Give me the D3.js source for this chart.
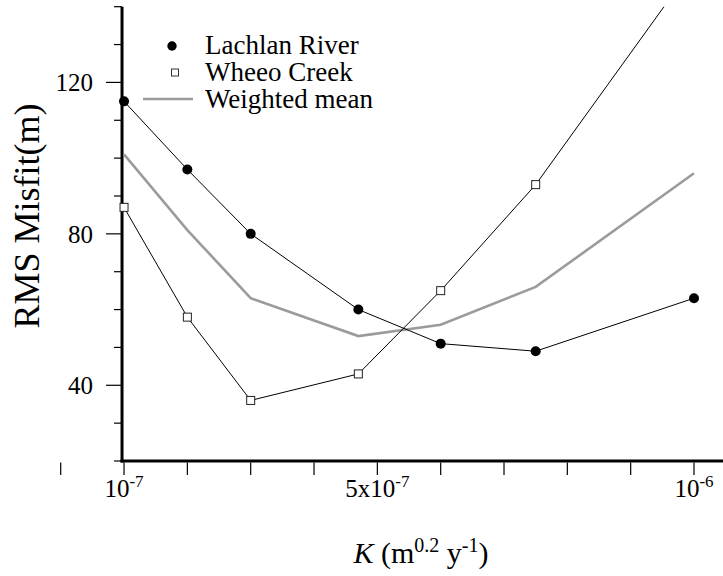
<!DOCTYPE html>
<meta charset="utf-8">
<title>RMS misfit vs K</title>
<style>

body {
  margin: 0;
  background: white;
}

svg {
  font-family: "Liberation Serif", "Times New Roman", serif;
}

.tick-label {
  font-size: 25px;
}

.legend text {
  font-size: 27px;
}

</style>
<body>
<script src="https://d3js.org/d3.v7.min.js"></script>
<script>

// K values (m^0.2 y^-1) and RMS misfit (m) for each catchment
var kValues = [1e-7, 2e-7, 3e-7, 4.7e-7, 6e-7, 7.5e-7, 1e-6];
var lachlan = [115, 97, 80, 60, 51, 49, 63];
var wheeo = [87, 58, 36, 43, 65, 93, 151];
var weighted = [101, 81, 63, 53, 56, 66, 96];

var xTicks = [0, 1e-7, 2e-7, 3e-7, 4e-7, 5e-7, 6e-7, 7e-7, 8e-7, 9e-7, 1e-6];
var xLabels = [
  {k: 1e-7, base: "10", sup: "-7"},
  {k: 5e-7, base: "5x10", sup: "-7"},
  {k: 1e-6, base: "10", sup: "-6"}
];
var yMinor = [20, 30, 40, 50, 60, 70, 80, 90, 100, 110, 120, 130, 140];
var yMajor = [40, 80, 120];

var width = 723, height = 576;

var x = d3.scaleLinear()
    .domain([0, 1e-6])
    .range([60.7, 694]);

var y = d3.scaleLinear()
    .domain([20, 140])
    .range([461, 6.7]);

var svg = d3.select("body").append("svg")
    .attr("width", width)
    .attr("height", height);

svg.append("defs").append("clipPath")
    .attr("id", "plot-clip")
  .append("rect")
    .attr("x", 0)
    .attr("y", y(140))
    .attr("width", width)
    .attr("height", y(20) - y(140));

var axisX = x(1e-7) - 2;

// y axis
var yAxis = svg.append("g").attr("class", "y axis");

yAxis.append("line")
    .attr("x1", axisX).attr("x2", axisX)
    .attr("y1", y(140)).attr("y2", y(20) + 1.5)
    .attr("stroke", "black")
    .attr("stroke-width", 3);

yAxis.selectAll(".minor")
    .data(yMinor)
  .enter().append("line")
    .attr("class", "minor")
    .attr("x1", function(d) { return yMajor.indexOf(d) >= 0 ? axisX - 16 : axisX - 8; })
    .attr("x2", axisX)
    .attr("y1", function(d) { return y(d); })
    .attr("y2", function(d) { return y(d); })
    .attr("stroke", "black")
    .attr("stroke-width", 1.2);

yAxis.selectAll(".tick-label")
    .data(yMajor)
  .enter().append("text")
    .attr("class", "tick-label")
    .attr("x", axisX - 29)
    .attr("y", function(d) { return y(d); })
    .attr("dy", "0.35em")
    .attr("text-anchor", "end")
    .text(function(d) { return d; });

svg.append("text")
    .attr("transform", "translate(39,216) rotate(-90)")
    .attr("text-anchor", "middle")
    .style("font-size", "36px")
    .text("RMS Misfit(m)");

// x axis
var xAxis = svg.append("g").attr("class", "x axis");

xAxis.append("line")
    .attr("x1", axisX - 1.5).attr("x2", width)
    .attr("y1", y(20)).attr("y2", y(20))
    .attr("stroke", "black")
    .attr("stroke-width", 3);

xAxis.selectAll(".xtick")
    .data(xTicks)
  .enter().append("line")
    .attr("class", "xtick")
    .attr("x1", function(d) { return x(d); })
    .attr("x2", function(d) { return x(d); })
    .attr("y1", y(20) + 1.5)
    .attr("y2", y(20) + 14)
    .attr("stroke", "black")
    .attr("stroke-width", 1.2);

var xl = xAxis.selectAll(".xlabel")
    .data(xLabels)
  .enter().append("text")
    .attr("class", "tick-label")
    .attr("x", function(d) { return x(d.k); })
    .attr("y", 497)
    .attr("text-anchor", "middle");

xl.append("tspan").text(function(d) { return d.base; });
xl.append("tspan")
    .attr("dy", -10)
    .style("font-size", "17px")
    .text(function(d) { return d.sup; });

var xt = svg.append("text")
    .attr("x", 421)
    .attr("y", 563)
    .attr("text-anchor", "middle")
    .style("font-size", "30px");
xt.append("tspan").style("font-style", "italic").text("K");
xt.append("tspan").text(" (m");
xt.append("tspan").attr("dy", -11).style("font-size", "20px").text("0.2");
xt.append("tspan").attr("dy", 11).text(" y");
xt.append("tspan").attr("dy", -11).style("font-size", "20px").text("-1");
xt.append("tspan").attr("dy", 11).text(")");

// series
function rows(vals) {
  return kValues.map(function(k, i) { return {k: k, v: vals[i]}; });
}

var line = d3.line()
    .x(function(d) { return x(d.k); })
    .y(function(d) { return y(d.v); });

var plot = svg.append("g").attr("clip-path", "url(#plot-clip)");

plot.append("path")
    .datum(rows(weighted))
    .attr("d", line)
    .attr("fill", "none")
    .attr("stroke", "#9b9b9b")
    .attr("stroke-width", 2.6);

plot.append("path")
    .datum(rows(lachlan))
    .attr("d", line)
    .attr("fill", "none")
    .attr("stroke", "black")
    .attr("stroke-width", 1);

plot.append("path")
    .datum(rows(wheeo))
    .attr("d", line)
    .attr("fill", "none")
    .attr("stroke", "black")
    .attr("stroke-width", 1);

plot.selectAll(".dot")
    .data(rows(lachlan))
  .enter().append("circle")
    .attr("class", "dot")
    .attr("cx", function(d) { return x(d.k); })
    .attr("cy", function(d) { return y(d.v); })
    .attr("r", 5)
    .attr("fill", "black");

plot.selectAll(".sq")
    .data(rows(wheeo))
  .enter().append("rect")
    .attr("class", "sq")
    .attr("x", function(d) { return x(d.k) - 4; })
    .attr("y", function(d) { return y(d.v) - 4; })
    .attr("width", 8)
    .attr("height", 8)
    .attr("fill", "white")
    .attr("stroke", "#222")
    .attr("stroke-width", 1);

// legend
var legend = svg.append("g").attr("class", "legend");

legend.append("circle")
    .attr("cx", 172).attr("cy", 46).attr("r", 4.7)
    .attr("fill", "black");
legend.append("text").attr("x", 205).attr("y", 54).text("Lachlan River");

legend.append("rect")
    .attr("x", 171.5).attr("y", 69).attr("width", 7).attr("height", 7)
    .attr("fill", "white").attr("stroke", "#333").attr("stroke-width", 1);
legend.append("text").attr("x", 205).attr("y", 81).text("Wheeo Creek");

legend.append("line")
    .attr("x1", 143).attr("x2", 193).attr("y1", 99).attr("y2", 99)
    .attr("stroke", "#9b9b9b").attr("stroke-width", 2.6);
legend.append("text").attr("x", 205).attr("y", 108).text("Weighted mean");

</script>
</body>
